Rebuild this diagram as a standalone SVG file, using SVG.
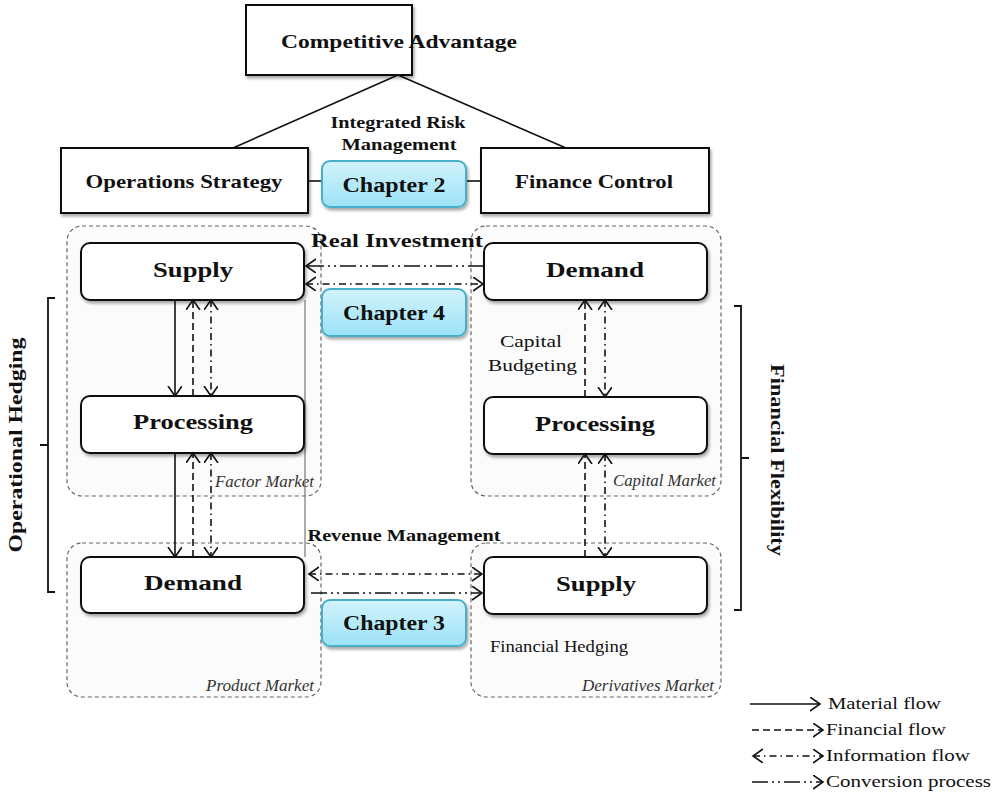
<svg xmlns="http://www.w3.org/2000/svg" width="992" height="796" viewBox="0 0 992 796">
<defs>
<style>
text{font-family:"Liberation Serif","DejaVu Serif",serif;fill:#111}
.node{fill:#fff;stroke:#111;stroke-width:2}
.box{fill:#fff;stroke:#111;stroke-width:2}
.mkt{fill:#fbfbfb;stroke:#666;stroke-width:1.2;stroke-dasharray:4,3}
.chap{fill:url(#blue);stroke:#4aaec8;stroke-width:2}
.lbl{font-weight:bold;text-anchor:middle}
.it{font-style:italic;font-size:16px;text-anchor:end;fill:#333}
.c{fill:none;stroke:#111;stroke-width:1.6}
.mat{marker-end:url(#arr)}
.fin{stroke-dasharray:7,4}
.inf{stroke-dasharray:7,4,1.5,4}
.conv{stroke-dasharray:16,4,2,4,2,4}
</style>
<linearGradient id="blue" x1="0" y1="0" x2="0" y2="1">
<stop offset="0" stop-color="#d2f3fc"/>
<stop offset="1" stop-color="#9be2f6"/>
</linearGradient>
<filter id="sh" x="-10%" y="-10%" width="130%" height="140%">
<feDropShadow dx="1.5" dy="2.5" stdDeviation="1.5" flood-color="#000" flood-opacity="0.35"/>
</filter>
<marker id="arr" markerUnits="userSpaceOnUse" markerWidth="14" markerHeight="16" refX="10" refY="7" orient="auto-start-reverse" viewBox="0 0 14 16">
<path d="M0,0 L10,7 L0,14" fill="none" stroke="#111" stroke-width="1.6"/>
</marker>
</defs>

<g id="connectors-top">
<line class="c" x1="398" y1="75" x2="233" y2="148"/>
<line class="c" x1="398" y1="75" x2="566" y2="148"/>
<line class="c" x1="308" y1="181" x2="322" y2="181"/>
<line class="c" x1="466" y1="181" x2="481" y2="181"/>
</g>

<g id="competitive-advantage">
<rect class="box" x="246" y="5" width="166" height="70" filter="url(#sh)"/>
<text class="lbl" x="399" y="48" font-size="19" textLength="236" lengthAdjust="spacingAndGlyphs">Competitive Advantage</text>
</g>
<g id="operations-strategy">
<rect class="box" x="61" y="148" width="247" height="65" filter="url(#sh)"/>
<text class="lbl" x="184" y="188" font-size="19" textLength="197" lengthAdjust="spacingAndGlyphs">Operations Strategy</text>
</g>
<g id="finance-control">
<rect class="box" x="481" y="148" width="228" height="65" filter="url(#sh)"/>
<text class="lbl" x="594" y="188" font-size="19" textLength="158" lengthAdjust="spacingAndGlyphs">Finance Control</text>
</g>
<g id="irm-label">
<text class="lbl" x="398" y="128" font-size="17" textLength="135" lengthAdjust="spacingAndGlyphs">Integrated Risk</text>
<text class="lbl" x="399" y="150" font-size="17" textLength="115" lengthAdjust="spacingAndGlyphs">Management</text>
</g>
<g id="chapter2">
<rect class="chap" x="322" y="161" width="144" height="46" rx="8" filter="url(#sh)"/>
<text class="lbl" x="394" y="192" font-size="20" textLength="103" lengthAdjust="spacingAndGlyphs">Chapter 2</text>
</g>

<g id="factor-market">
<rect class="mkt" x="67" y="226" width="254" height="270" rx="15"/>
<text class="it" x="314" y="487" textLength="99" lengthAdjust="spacingAndGlyphs">Factor Market</text>
</g>
<g id="capital-market">
<rect class="mkt" x="471" y="226" width="250" height="270" rx="15"/>
<text class="it" x="716" y="486" textLength="103" lengthAdjust="spacingAndGlyphs">Capital Market</text>
</g>
<g id="product-market">
<rect class="mkt" x="67" y="543" width="254" height="154" rx="15"/>
<text class="it" x="314" y="691" textLength="108" lengthAdjust="spacingAndGlyphs">Product Market</text>
</g>
<g id="derivatives-market">
<rect class="mkt" x="471" y="543" width="250" height="154" rx="15"/>
<text class="it" x="714" y="691" textLength="132" lengthAdjust="spacingAndGlyphs">Derivatives Market</text>
</g>

<line x1="305" y1="300" x2="305" y2="557" stroke="#777" stroke-width="1.2"/>

<g id="supply-left">
<rect class="node" x="81" y="243" width="223" height="57" rx="9" filter="url(#sh)"/>
<text class="lbl" x="193" y="277" font-size="22" textLength="80" lengthAdjust="spacingAndGlyphs">Supply</text>
</g>
<g id="processing-left">
<rect class="node" x="81" y="396" width="223" height="57" rx="9" filter="url(#sh)"/>
<text class="lbl" x="193" y="429" font-size="22" textLength="120" lengthAdjust="spacingAndGlyphs">Processing</text>
</g>
<g id="demand-left">
<rect class="node" x="81" y="557" width="223" height="56" rx="9" filter="url(#sh)"/>
<text class="lbl" x="193" y="590" font-size="22" textLength="98" lengthAdjust="spacingAndGlyphs">Demand</text>
</g>
<g id="demand-right">
<rect class="node" x="484" y="243" width="223" height="57" rx="9" filter="url(#sh)"/>
<text class="lbl" x="595" y="277" font-size="22" textLength="98" lengthAdjust="spacingAndGlyphs">Demand</text>
</g>
<g id="processing-right">
<rect class="node" x="484" y="397" width="223" height="57" rx="9" filter="url(#sh)"/>
<text class="lbl" x="595" y="431" font-size="22" textLength="120" lengthAdjust="spacingAndGlyphs">Processing</text>
</g>
<g id="supply-right">
<rect class="node" x="484" y="557" width="223" height="57" rx="9" filter="url(#sh)"/>
<text class="lbl" x="596" y="591" font-size="22" textLength="80" lengthAdjust="spacingAndGlyphs">Supply</text>
</g>

<g id="chapter4">
<rect class="chap" x="322" y="289" width="144" height="47" rx="8" filter="url(#sh)"/>
<text class="lbl" x="394" y="320" font-size="20" textLength="102" lengthAdjust="spacingAndGlyphs">Chapter 4</text>
</g>
<g id="chapter3">
<rect class="chap" x="322" y="600" width="144" height="46" rx="8" filter="url(#sh)"/>
<text class="lbl" x="394" y="630" font-size="20" textLength="102" lengthAdjust="spacingAndGlyphs">Chapter 3</text>
</g>

<g id="labels">
<text class="lbl" x="397" y="247" font-size="18" textLength="172" lengthAdjust="spacingAndGlyphs">Real Investment</text>
<text class="lbl" x="404" y="541" font-size="17" textLength="193" lengthAdjust="spacingAndGlyphs">Revenue Management</text>
<text x="500" y="347" font-size="17" fill="#333" textLength="62" lengthAdjust="spacingAndGlyphs">Capital</text>
<text x="488" y="371" font-size="17" fill="#333" textLength="89" lengthAdjust="spacingAndGlyphs">Budgeting</text>
<text x="490" y="652" font-size="16" fill="#333" textLength="138" lengthAdjust="spacingAndGlyphs">Financial Hedging</text>
</g>

<g id="connectors">
<line class="c mat" x1="175" y1="300" x2="175" y2="396"/>
<line class="c fin mat" x1="193" y1="396" x2="193" y2="300"/>
<line class="c inf mat" x1="211" y1="300" x2="211" y2="396" marker-start="url(#arr)"/>
<line class="c mat" x1="175" y1="453" x2="175" y2="557"/>
<line class="c fin mat" x1="193" y1="557" x2="193" y2="453"/>
<line class="c inf mat" x1="211" y1="453" x2="211" y2="557" marker-start="url(#arr)"/>
<line class="c fin mat" x1="585" y1="397" x2="585" y2="300"/>
<line class="c inf mat" x1="605" y1="300" x2="605" y2="397" marker-start="url(#arr)"/>
<line class="c fin mat" x1="585" y1="557" x2="585" y2="454"/>
<line class="c inf mat" x1="605" y1="454" x2="605" y2="557" marker-start="url(#arr)"/>
<line class="c conv mat" x1="484" y1="266" x2="306" y2="266"/>
<line class="c inf mat" x1="306" y1="284" x2="483" y2="284" marker-start="url(#arr)"/>
<line class="c inf mat" x1="309" y1="574" x2="482" y2="574" marker-start="url(#arr)"/>
<line class="c conv mat" x1="311" y1="593" x2="482" y2="593"/>
</g>

<g id="operational-hedging">
<path d="M55,298 H48 V592 H55 M48,445 H40" fill="none" stroke="#111" stroke-width="1.8"/>
<text class="lbl" transform="translate(22,445) rotate(-90)" font-size="19" textLength="215" lengthAdjust="spacingAndGlyphs">Operational Hedging</text>
</g>
<g id="financial-flexibility">
<path d="M734,306 H741 V610 H734 M741,458 H749" fill="none" stroke="#111" stroke-width="1.8"/>
<text class="lbl" transform="translate(771,460) rotate(90)" font-size="19" textLength="192" lengthAdjust="spacingAndGlyphs">Financial Flexibility</text>
</g>

<g id="legend">
<line class="c mat" x1="750" y1="704" x2="820" y2="704"/>
<text x="828" y="709" font-size="16" textLength="113" lengthAdjust="spacingAndGlyphs">Material flow</text>
<line class="c fin mat" x1="752" y1="730" x2="823" y2="730"/>
<text x="826" y="735" font-size="16" textLength="120" lengthAdjust="spacingAndGlyphs">Financial flow</text>
<line class="c inf mat" x1="753" y1="756" x2="823" y2="756" marker-start="url(#arr)"/>
<text x="826" y="761" font-size="16" textLength="144" lengthAdjust="spacingAndGlyphs">Information flow</text>
<line class="c conv mat" x1="752" y1="782" x2="823" y2="782"/>
<text x="826" y="787" font-size="16" textLength="165" lengthAdjust="spacingAndGlyphs">Conversion process</text>
</g>
</svg>
